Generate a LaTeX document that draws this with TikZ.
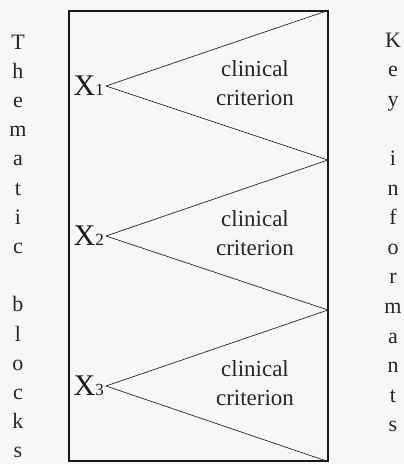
\documentclass[tikz,border=0pt]{standalone}
\usepackage{fontspec}
\setmainfont{Liberation Serif}
\begin{document}
\begin{tikzpicture}[x=1pt,y=-1pt,
  letter/.style={anchor=base,inner sep=0pt,font=\fontsize{22}{26}\selectfont,text=black!85},
  crit/.style={align=center,inner sep=0pt,font=\fontsize{23}{29}\selectfont,text=black!85},
  xlab/.style={anchor=base east,inner sep=0pt,font=\fontsize{30}{30}\selectfont,text=black!90},
  ray/.style={line width=0.7pt,black!85},
  frame/.style={draw=black!90,line width=1.6pt,inner sep=0pt,minimum width=259pt,minimum height=450pt}]
\fill[black!3] (0,0) rectangle (404,464);
\useasboundingbox (0,0) rectangle (404,464);
% frame
\node[frame] (box) at (198.5,236) {};
% right-side meeting points
\coordinate (r0) at (box.north east);
\coordinate (r1) at (328,160);
\coordinate (r2) at (328,310);
\coordinate (r3) at (box.south east);
% apexes
\coordinate (a1) at (106,86);
\coordinate (a2) at (106,236);
\coordinate (a3) at (106,386);
% rays
\draw[ray] (r0) -- (a1) -- (r1);
\draw[ray] (r1) -- (a2) -- (r2);
\draw[ray] (r2) -- (a3) -- (r3);
% X labels
\node[xlab] (x1) at (104,95) {X{\fontsize{17}{17}\selectfont 1}};
\node[xlab] (x2) at (104,245) {X{\fontsize{17}{17}\selectfont 2}};
\node[xlab] (x3) at (104,395) {X{\fontsize{17}{17}\selectfont 3}};
% clinical criterion
\node[crit] (c1) at (255,83) {clinical\\criterion};
\node[crit] (c2) at (255,233) {clinical\\criterion};
\node[crit] (c3) at (255,383) {clinical\\criterion};
% left vertical text
\foreach \ch [count=\i from 0] in {T,h,e,m,a,t,i,c,{},b,l,o,c,k,s}
  \node[letter] (L\i) at (18,{49+29.2*\i}) {\ch};
% right vertical text
\foreach \ch [count=\i from 0] in {K,e,y,{},i,n,f,o,r,m,a,n,t,s}
  \node[letter] (R\i) at (393,{47+29.6*\i}) {\ch};
\end{tikzpicture}
\end{document}
